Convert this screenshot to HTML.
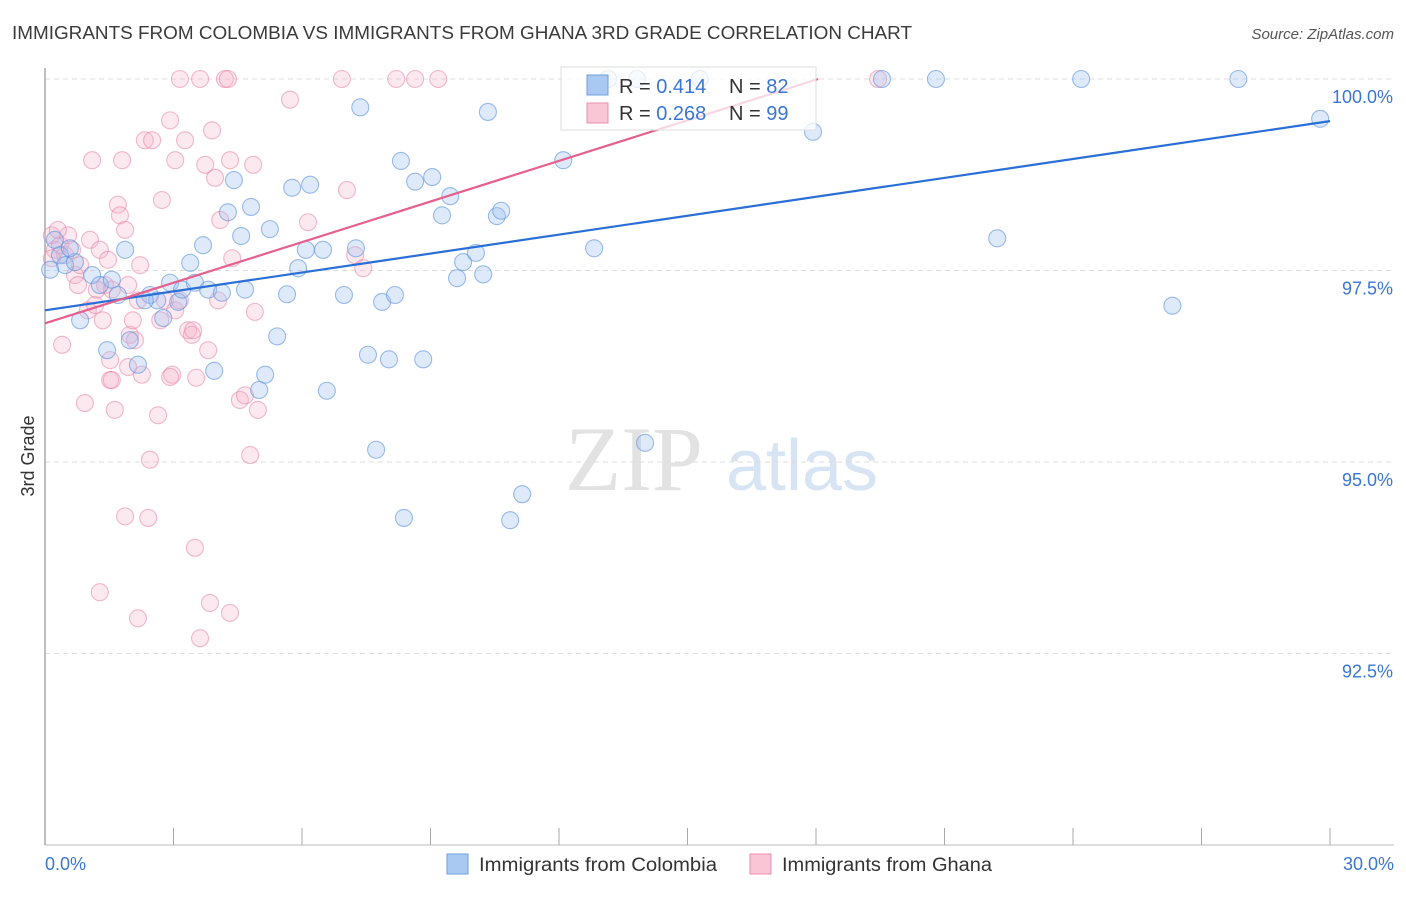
<!DOCTYPE html>
<html><head><meta charset="utf-8">
<style>
html,body{margin:0;padding:0;background:#fff;}
body{width:1406px;height:892px;overflow:hidden;font-family:"Liberation Sans",sans-serif;}
</style></head>
<body>
<svg id="chart" width="1406" height="892" xmlns="http://www.w3.org/2000/svg" font-family="Liberation Sans, sans-serif">
<text x="12" y="39" font-size="18" fill="#3a3a3a" textLength="900" lengthAdjust="spacingAndGlyphs">IMMIGRANTS FROM COLOMBIA VS IMMIGRANTS FROM GHANA 3RD GRADE CORRELATION CHART</text>
<text x="1394" y="39" font-size="15" fill="#555" text-anchor="end" font-style="italic">Source: ZipAtlas.com</text>
<g>
<text x="634" y="490" font-size="92" fill="#e2e2e2" text-anchor="middle" font-family="Liberation Serif, serif">ZIP</text>
<text x="802" y="490" font-size="72" fill="#d6e4f4" text-anchor="middle">atlas</text>
</g>
<text transform="translate(34,456) rotate(-90)" font-size="18" fill="#333" text-anchor="middle">3rd Grade</text>
<g id="grid"></g>
<g id="axes"></g>
<g id="pts"></g>
<g id="lines"></g>
<g>
<rect x="561" y="67" width="255" height="63" fill="rgba(255,255,255,0.75)" stroke="#ddd"/>
<rect x="587" y="75" width="21" height="20" fill="#a9c8f2" stroke="#6fa0e0"/>
<rect x="587" y="103" width="21" height="20" fill="#f9c6d6" stroke="#ec8fb0"/>
<text x="619" y="93" font-size="20" fill="#333">R = <tspan fill="#3a76d4">0.414</tspan></text>
<text x="729" y="93" font-size="20" fill="#333">N = <tspan fill="#3a76d4">82</tspan></text>
<text x="619" y="120" font-size="20" fill="#333">R = <tspan fill="#3a76d4">0.268</tspan></text>
<text x="729" y="120" font-size="20" fill="#333">N = <tspan fill="#3a76d4">99</tspan></text>
</g>
<g>
<rect x="447" y="854" width="21" height="20" fill="#a9c8f2" stroke="#6fa0e0"/>
<text x="479" y="871" font-size="19" fill="#333" textLength="238" lengthAdjust="spacingAndGlyphs">Immigrants from Colombia</text>
<rect x="750" y="854" width="21" height="20" fill="#f9c6d6" stroke="#ec8fb0"/>
<text x="782" y="871" font-size="19" fill="#333" textLength="210" lengthAdjust="spacingAndGlyphs">Immigrants from Ghana</text>
</g>
</svg>
<script>
const yTicks=[100,97.5,95,92.5];
const yTickLabels=["100.0%","97.5%","95.0%","92.5%"];
const xTicks=[0,3,6,9,12,15,18,21,24,27,30];
const xEndLabels=["0.0%","30.0%"];
const colombiaX=[0.23,0.35,0.47,0.70,0.82,1.10,1.28,1.45,1.56,1.70,1.87,1.98,2.17,2.45,2.62,2.76,2.92,3.11,3.20,3.39,3.50,3.69,3.81,3.95,4.13,4.27,4.41,4.58,4.67,4.81,5.00,5.14,5.25,5.42,5.65,5.77,5.91,6.09,6.19,6.49,6.58,6.98,7.26,7.36,7.54,7.73,7.87,8.03,8.17,8.31,8.38,8.64,8.83,9.04,9.27,9.46,9.62,9.76,10.06,10.23,10.34,10.55,10.65,10.86,11.14,12.10,12.82,14.01,17.93,19.54,20.80,22.23,24.19,26.32,27.86,29.77,0.12,0.58,2.33,13.15,15.29,13.82];
const colombiaY=[97.90,97.70,97.57,97.61,96.85,97.44,97.31,96.46,97.38,97.18,97.77,96.59,96.27,97.18,97.11,96.88,97.34,97.09,97.25,97.60,97.34,97.83,97.25,96.19,97.21,98.26,98.68,97.95,97.25,98.33,95.94,96.14,98.04,96.64,97.19,98.58,97.53,97.77,98.62,97.77,95.93,97.18,97.79,99.63,96.40,95.16,97.09,96.34,97.18,98.93,94.27,98.66,96.34,98.72,98.22,98.47,97.40,97.61,97.73,97.45,99.57,98.21,98.28,94.24,94.58,98.94,97.79,95.25,99.31,100,100,97.92,100,97.04,100,99.48,97.51,97.79,97.11,100,100,100];
const ghanaX=[0.16,0.23,0.35,0.47,0.54,0.63,0.70,0.82,1.00,1.05,1.17,1.28,1.35,1.40,1.52,1.56,1.63,1.70,1.75,1.80,1.87,1.94,1.98,2.05,2.10,2.17,2.22,2.26,2.33,2.45,2.50,2.64,2.69,2.73,2.80,2.92,2.97,3.04,3.15,3.27,3.34,3.43,3.53,3.62,3.74,3.81,3.90,3.97,4.04,4.09,4.20,4.27,4.37,4.55,4.67,4.79,4.86,4.90,4.97,5.72,6.14,6.93,7.05,7.24,7.43,8.20,8.64,9.18,19.45,1.28,1.87,2.17,2.41,3.50,3.62,3.85,4.32,0.93,1.21,1.94,1.52,2.92,3.46,0.16,0.30,0.40,0.77,1.10,1.47,1.56,3.04,3.15,4.32];
const ghanaY=[97.96,97.77,97.83,97.70,97.96,97.77,97.44,97.57,96.98,97.90,97.05,97.77,96.85,97.31,96.07,97.25,95.68,98.36,98.22,98.94,98.03,97.31,96.66,96.85,96.59,97.11,97.57,96.14,99.20,95.03,99.20,95.61,96.85,98.42,97.11,99.46,96.14,96.98,100,99.20,96.72,96.66,96.10,100,98.88,96.46,99.33,98.71,97.11,98.16,100,100,97.66,95.81,95.87,95.09,98.88,96.96,95.68,99.73,98.13,100,98.55,97.70,97.53,100,100,100,100,93.30,94.29,92.96,94.27,93.88,92.70,93.16,93.03,95.77,97.25,96.24,96.33,96.11,96.72,97.66,98.03,96.53,97.31,98.94,97.64,96.07,98.94,97.11,98.94];
const colombiaTrend=[[0,96.98],[30,99.45]];
const ghanaTrend=[[0,96.81],[18.05,100]];

const X0=45,X1=1330,YTOP=79,YPX=191.5;
const sx=v=>X0+(v/30)*(X1-X0);
const sy=v=>YTOP+(100-v)/2.5*YPX;
const NS="http://www.w3.org/2000/svg";
function mk(tag,attrs,parent){const e=document.createElementNS(NS,tag);for(const k in attrs)e.setAttribute(k,attrs[k]);parent.appendChild(e);return e;}
const grid=document.getElementById('grid'),axes=document.getElementById('axes'),pts=document.getElementById('pts'),lines=document.getElementById('lines');
yTicks.forEach((t,i)=>{
  const l=mk('line',{x1:X0,x2:1394,y1:sy(t),y2:sy(t),stroke:'#ddd','stroke-dasharray':'5,4'},grid);
  
  
  const tx=mk('text',{x:1393,y:sy(t)+24,'font-size':18,fill:'#3a76d4','text-anchor':'end'},axes);
  tx.textContent=yTickLabels[i];
  
  
});
const ya=mk('line',{x1:X0,x2:X0,y1:68,y2:845,stroke:'#aaa','stroke-width':1.5},axes);


const xa=mk('line',{x1:X0,x2:1394,y1:845,y2:845,stroke:'#bbb'},axes);


xTicks.forEach(t=>{
  const l=mk('line',{x1:sx(t),x2:sx(t),y1:828,y2:845,stroke:'#aaa'},axes);
  
  
});
[[0,'start',45],[30,'end',1394]].forEach((d,i)=>{
  const tx=mk('text',{x:d[2],y:870,'font-size':18,fill:'#3a76d4','text-anchor':d[1]},axes);
  tx.textContent=xEndLabels[i];
  
  
});
function drawPts(xs,ys,fill,stroke,name){
  xs.forEach((v,i)=>{
    const c=mk('circle',{cx:sx(v),cy:sy(ys[i]),r:8.5,fill:fill,stroke:stroke,'stroke-width':1.1},pts);
    
    
  });
}
drawPts(ghanaX,ghanaY,'rgba(246,180,202,0.3)','rgba(232,130,165,0.55)','ghana-point');
drawPts(colombiaX,colombiaY,'rgba(160,196,240,0.35)','rgba(90,145,220,0.6)','colombia-point');
const lb=mk('line',{x1:sx(colombiaTrend[0][0]),y1:sy(colombiaTrend[0][1]),x2:sx(colombiaTrend[1][0]),y2:sy(colombiaTrend[1][1]),stroke:'#2a6fd6','stroke-width':2.2},lines);


const lp=mk('line',{x1:sx(ghanaTrend[0][0]),y1:sy(ghanaTrend[0][1]),x2:sx(ghanaTrend[1][0]),y2:sy(ghanaTrend[1][1]),stroke:'#e5608d','stroke-width':2.2},lines);


</script>
</body></html>
